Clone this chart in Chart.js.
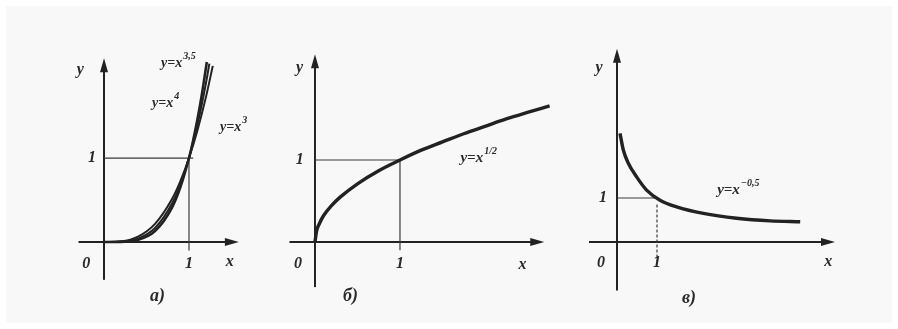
<!DOCTYPE html>
<html><head><meta charset="utf-8">
<script src="https://cdn.jsdelivr.net/npm/chart.js@4/dist/chart.umd.min.js"></script>
<style>
body{margin:0;background:#fff;width:898px;height:329px;overflow:hidden;position:relative}
#bg{position:absolute;left:6px;top:6px;width:886px;height:317px;background:#f8f8f8}
canvas{position:absolute}
.cap{position:absolute;font:italic bold 18px 'Liberation Serif',serif;color:#2a2a2a}
</style></head>
<body>
<div id="bg"></div>
<canvas id="ca" style="left:60px;top:50px"></canvas>
<canvas id="cb" style="left:270px;top:45px"></canvas>
<canvas id="cc" style="left:575px;top:45px"></canvas>
<div class="cap" style="left:150px;top:285px">а)</div>
<div class="cap" style="left:343px;top:285px">б)</div>
<div class="cap" style="left:682px;top:287px">в)</div>
<script>
// Panel а: y = x^3, x^3.5, x^4
const aX3  = [0,0.2,0.4,0.6,0.8,0.9,1,1.1,1.2,1.28];
const aY3  = [0,0.008,0.064,0.216,0.512,0.729,1,1.331,1.728,2.097];
const aX35 = [0,0.2,0.4,0.6,0.8,0.9,1,1.1,1.2,1.24];
const aY35 = [0,0.004,0.04,0.167,0.458,0.691,1,1.396,1.893,2.123];
const aX4  = [0,0.2,0.4,0.6,0.8,0.9,1,1.05,1.1,1.15,1.21];
const aY4  = [0,0.0016,0.0256,0.1296,0.4096,0.6561,1,1.2155,1.4641,1.749,2.1436];
// Panel б
const bX = [0,0.02,0.05,0.1,0.2,0.3,0.5,0.75,1,1.25,1.5,1.75,2,2.25,2.5,2.76];
const bY = [0,0.14,0.22,0.32,0.45,0.55,0.71,0.87,1,1.12,1.22,1.32,1.41,1.5,1.58,1.66];
// Panel в
const cX = [0.075,0.158,0.283,0.49,0.74,1.075,1.49,2.16,2.99,3.83,4.58];
const cY = [2.47,2.09,1.79,1.48,1.18,0.95,0.80,0.65,0.54,0.48,0.46];
// labels
const tickLabels = ['0','1','1','x','y'];
const aLabels = [['y=x','3,5'],['y=x','4'],['y=x','3']];
const bLabels = [['y=x','1/2']];
const cLabels = [['y=x','−0,5']];

const pts = (xs, ys) => xs.map((x, i) => ({x, y: ys[i]}));
const INK = '#222';

function axesPlugin(cfg) {
  return {
    id: 'axes',
    beforeDatasetsDraw(chart) {
      const {ctx, scales: {x, y}} = chart;
      const X = v => x.getPixelForValue(v), Y = v => y.getPixelForValue(v);
      ctx.save();
      ctx.strokeStyle = INK; ctx.fillStyle = INK; ctx.lineWidth = 2;
      ctx.beginPath(); ctx.moveTo(X(cfg.ax[0]), Y(0)); ctx.lineTo(X(cfg.ax[1]), Y(0)); ctx.stroke();
      const xe = X(cfg.ax[1]), y0 = Y(0);
      ctx.beginPath(); ctx.moveTo(xe + 4, y0); ctx.lineTo(xe - 10, y0 - 4); ctx.lineTo(xe - 10, y0 + 4); ctx.closePath(); ctx.fill();
      ctx.beginPath(); ctx.moveTo(X(0), Y(cfg.ay[0])); ctx.lineTo(X(0), Y(cfg.ay[1])); ctx.stroke();
      const ye = Y(cfg.ay[1]), x0 = X(0);
      ctx.beginPath(); ctx.moveTo(x0, ye - 4); ctx.lineTo(x0 - 4, ye + 10); ctx.lineTo(x0 + 4, ye + 10); ctx.closePath(); ctx.fill();
      ctx.lineWidth = 1.2; ctx.strokeStyle = '#3a3a3a';
      cfg.guides.forEach(g => {
        ctx.setLineDash(g.dash || []);
        ctx.beginPath(); ctx.moveTo(X(g.p[0]), Y(g.p[1])); ctx.lineTo(X(g.p[2]), Y(g.p[3])); ctx.stroke();
      });
      ctx.restore();
    },
    afterDraw(chart) {
      const {ctx, scales: {x, y}} = chart;
      ctx.save();
      ctx.fillStyle = '#2a2a2a'; ctx.textBaseline = 'middle';
      cfg.texts.forEach(t => {
        const px = x.getPixelForValue(t.x), py = y.getPixelForValue(t.y);
        const main = 'italic bold ' + (t.size || 16) + 'px "Liberation Serif", serif';
        const sup = 'italic bold 10px "Liberation Serif", serif';
        ctx.font = main;
        if (t.sup) {
          const w1 = ctx.measureText(t.t).width;
          ctx.font = sup;
          const w2 = ctx.measureText(t.sup).width;
          const left = px - (w1 + w2) / 2;
          ctx.font = main; ctx.textAlign = 'left';
          ctx.fillText(t.t, left, py);
          ctx.font = sup;
          ctx.fillText(t.sup, left + w1 + 1, py - 7);
        } else {
          ctx.textAlign = 'center';
          ctx.fillText(t.t, px, py);
        }
      });
      ctx.restore();
    }
  };
}

function makeChart(id, w, h, range, datasets, cfg) {
  const c = document.getElementById(id);
  c.width = w; c.height = h;
  return new Chart(c, {
    type: 'scatter',
    data: {datasets},
    options: {
      responsive: false, animation: false, devicePixelRatio: 1,
      layout: {padding: 0},
      plugins: {legend: {display: false}, tooltip: {enabled: false}},
      elements: {point: {radius: 0}},
      scales: {
        x: {type: 'linear', min: range[0], max: range[1], display: false},
        y: {type: 'linear', min: range[2], max: range[3], display: false}
      }
    },
    plugins: [axesPlugin(cfg)]
  });
}
const curve = (data, lw) => ({data, showLine: true, borderColor: INK, borderWidth: lw, cubicInterpolationMode: 'monotone', fill: false});

// Panel а: origin (104,242), unit x 85, unit y 84
makeChart('ca', 190, 240, [-0.518, 1.718, -0.571, 2.286],
  [curve(pts(aX3, aY3), 2), curve(pts(aX35, aY35), 2), curve(pts(aX4, aY4), 2.6)],
  {ax: [-0.3, 1.54], ay: [-0.45, 2.14],
   guides: [{p: [0, 1, 1.05, 1]}, {p: [1, 1, 1, -0.1]}],
   texts: [
     {x: -0.28, y: 2.05, t: tickLabels[4]}, {x: -0.14, y: 1, t: tickLabels[1]},
     {x: -0.21, y: -0.26, t: tickLabels[0]}, {x: 1, y: -0.26, t: tickLabels[2]},
     {x: 1.48, y: -0.24, t: tickLabels[3]},
     {x: 0.87, y: 2.13, t: aLabels[0][0], sup: aLabels[0][1], size: 14},
     {x: 0.72, y: 1.65, t: aLabels[1][0], sup: aLabels[1][1], size: 14},
     {x: 1.52, y: 1.36, t: aLabels[2][0], sup: aLabels[2][1], size: 14}
   ]});

// Panel б: origin (315,242), unit x 85, unit y 82
makeChart('cb', 300, 250, [-0.529, 3.0, -0.646, 2.402],
  [curve(pts(bX, bY), 3.4)],
  {ax: [-0.3, 2.65], ay: [-0.55, 2.24],
   guides: [{p: [0, 1, 1, 1]}, {p: [1, 1, 1, -0.1]}],
   texts: [
     {x: -0.18, y: 2.12, t: tickLabels[4]}, {x: -0.18, y: 1, t: tickLabels[1]},
     {x: -0.2, y: -0.27, t: tickLabels[0]}, {x: 1, y: -0.27, t: tickLabels[2]},
     {x: 2.44, y: -0.28, t: tickLabels[3]},
     {x: 1.92, y: 1.02, t: bLabels[0][0], sup: bLabels[0][1], size: 15}
   ]});

// Panel в: origin (617,242), unit x 40, unit y 44
makeChart('cc', 270, 250, [-1.05, 5.7, -1.2045, 4.477],
  [curve(pts(cX, cY), 3.4)],
  {ax: [-0.7, 5.35], ay: [-1.1, 4.3],
   guides: [{p: [0, 1, 0.95, 1]}, {p: [1, 0.85, 1, -0.45], dash: [3, 2]}],
   texts: [
     {x: -0.45, y: 3.95, t: tickLabels[4]}, {x: -0.35, y: 1, t: tickLabels[1]},
     {x: -0.4, y: -0.48, t: tickLabels[0]}, {x: 1, y: -0.48, t: tickLabels[2]},
     {x: 5.28, y: -0.45, t: tickLabels[3]},
     {x: 3.02, y: 1.18, t: cLabels[0][0], sup: cLabels[0][1], size: 15}
   ]});
</script>
</body></html>
